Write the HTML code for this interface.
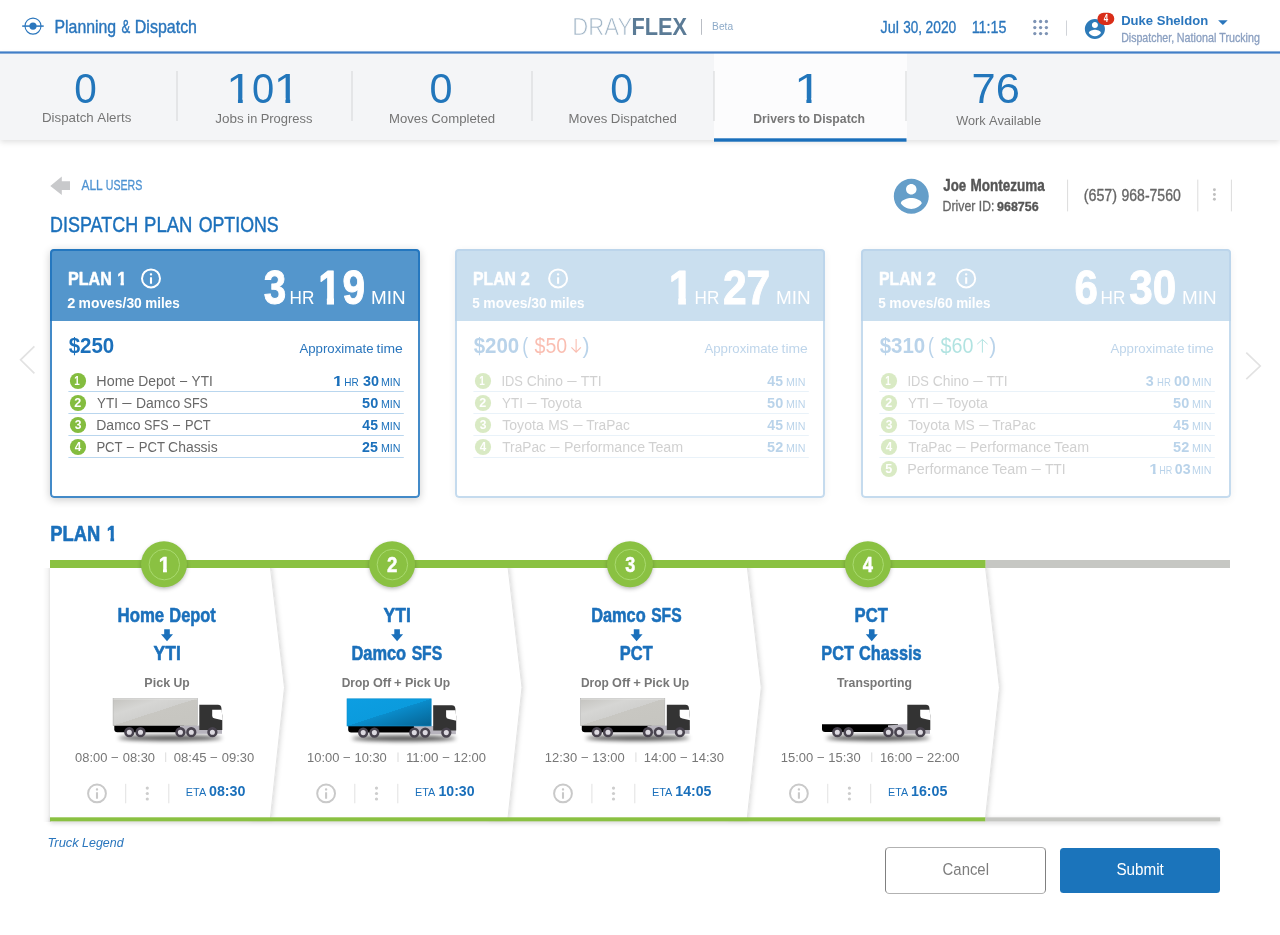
<!DOCTYPE html>
<html lang="en">
<head>
<meta charset="utf-8">
<title>DrayFlex - Planning &amp; Dispatch</title>
<style>
html,body{margin:0;padding:0;background:#fff}
body{font-family:"Liberation Sans",sans-serif;width:1280px;height:935px;overflow:hidden;position:relative}
.abs{position:absolute;box-sizing:border-box}
#hdr{left:0;top:0;width:1280px;height:53px;background:#fff}
#stats{left:0;top:53px;width:1280px;height:87px;background:#f4f5f7;box-shadow:0 2px 6px rgba(0,0,0,.13)}
#tab{left:714px;top:53px;width:192.5px;height:87px;background:#fcfcfd}
.card{top:249px;width:370px;height:248.6px;border-radius:4px;background:#fff;box-shadow:0 2px 8px rgba(0,0,0,.2);overflow:hidden}
.card .bd{position:absolute;left:0;top:0;right:0;bottom:0;box-sizing:border-box;border:2px solid rgba(26,112,188,.82);border-radius:4px}
.card .hd{position:absolute;left:0;top:0;width:100%;height:71.5px;background:#5496cc}
.fade{opacity:.3}
#cancel{left:885px;top:847px;width:161px;height:46.7px;border:1px solid #808080;border-top:1.8px solid #b2b2b2;border-bottom:1.8px solid #b2b2b2;border-radius:4.5px;background:#fff}
#submit{left:1060.4px;top:847.9px;width:160px;height:45.1px;border-radius:3.5px;background:#1b74bb}
#barsh{left:50px;top:817px;width:1170px;height:4px;box-shadow:0 2px 5px rgba(0,0,0,.18)}
svg{position:absolute;left:0;top:0;font-family:"Liberation Sans",sans-serif}
</style>
</head>
<body>
<div class="abs" id="hdr"></div>
<div class="abs" id="stats"></div>
<div class="abs" id="tab"></div>
<div class="abs card" style="left:50px"><div class="hd"></div><svg width="1280" height="935" viewBox="0 0 1280 935" style="left:-50px;top:-249px"><circle cx="78" cy="381" r="8.1" fill="#84bd3f"/><rect x="68.4" y="391" width="335.4" height="1" fill="#b9d6ee"/><circle cx="78" cy="403" r="8.1" fill="#84bd3f"/><rect x="68.4" y="413" width="335.4" height="1" fill="#b9d6ee"/><circle cx="78" cy="425" r="8.1" fill="#84bd3f"/><rect x="68.4" y="435" width="335.4" height="1" fill="#b9d6ee"/><circle cx="78" cy="447" r="8.1" fill="#84bd3f"/><rect x="68.4" y="457" width="335.4" height="1" fill="#b9d6ee"/><circle cx="151" cy="278.4" r="9.00" fill="none" stroke="#fff" stroke-width="2.00"/><g fill="#fff"><rect x="149.85" y="273.20" width="2.30" height="2.30" rx="0.90"/><rect x="149.95" y="277.30" width="2.10" height="6.40" rx=".3"/></g><clipPath id="tc1"><path d="M67.70 270.58 H112.28 V289.79 H67.70 Z M116.96 270.58 H124.80 V281.55 H123.90 V289.79 H120.56 V281.55 H116.96 Z"/></clipPath><text y="284.55" font-size="17.88" font-weight="700" fill="#fff" stroke="#fff" stroke-width="0.5" stroke-linejoin="round" clip-path="url(#tc1)"><tspan x="68.02" textLength="43.82" lengthAdjust="spacingAndGlyphs">PLAN</tspan> <tspan x="117.29" textLength="9.10" lengthAdjust="spacingAndGlyphs">1</tspan></text>
<text y="308.10" font-size="14.16" font-weight="700" fill="#fff"><tspan x="67.29" textLength="8.07" lengthAdjust="spacingAndGlyphs">2</tspan> <tspan x="78.60" textLength="63.23" lengthAdjust="spacingAndGlyphs">moves/30</tspan> <tspan x="145.21" textLength="34.42" lengthAdjust="spacingAndGlyphs">miles</tspan></text>
<text y="304.30" font-size="48.15" font-weight="700" fill="#fff" stroke="#fff" stroke-width="1.0" stroke-linejoin="round" x="263.86" textLength="22.43" lengthAdjust="spacingAndGlyphs">3</text>
<text y="304.00" font-size="18.6" fill="#fff" x="289.62" textLength="24.78" lengthAdjust="spacingAndGlyphs">HR</text>
<clipPath id="tc2"><path d="M319.30 266.68 H334.92 V297.08 H334.02 V318.41 H326.87 V297.08 H319.30 Z M342.38 266.68 H365.40 V318.41 H342.38 Z"/></clipPath><text y="304.30" font-size="48.15" font-weight="700" fill="#fff" stroke="#fff" stroke-width="1.0" stroke-linejoin="round" clip-path="url(#tc2)"><tspan x="318.24" textLength="22.49" lengthAdjust="spacingAndGlyphs">1</tspan><tspan x="342.61" textLength="22.60" lengthAdjust="spacingAndGlyphs">9</tspan></text>
<text y="304.00" font-size="18.6" fill="#fff" x="370.98" textLength="34.64" lengthAdjust="spacingAndGlyphs">MIN</text>
<text y="353.00" font-size="21.19" font-weight="700" fill="#1b70bb" x="68.66" textLength="45.60" lengthAdjust="spacingAndGlyphs">$250</text>
<text y="352.80" font-size="13.43" fill="#2a76bd"><tspan x="299.40" textLength="74.24" lengthAdjust="spacingAndGlyphs">Approximate</tspan> <tspan x="376.56" textLength="26.28" lengthAdjust="spacingAndGlyphs">time</tspan></text>
<text y="385.00" font-size="12.4" font-weight="700" fill="#fff" x="74.30" textLength="5.52" lengthAdjust="spacingAndGlyphs">1</text>
<text y="385.90" font-size="14.47" fill="#686868"><tspan x="96.26" textLength="38.36" lengthAdjust="spacingAndGlyphs">Home</tspan> <tspan x="138.14" textLength="37.06" lengthAdjust="spacingAndGlyphs">Depot</tspan> <tspan x="179.91" y="384.65" textLength="7.14" lengthAdjust="spacingAndGlyphs">–</tspan> <tspan x="191.61" y="385.90" textLength="21.19" lengthAdjust="spacingAndGlyphs">YTI</tspan></text>
<text y="385.90" font-size="10.13" fill="#1b70bb" x="344.16" textLength="14.46" lengthAdjust="spacingAndGlyphs">HR</text>
<text y="385.90" font-size="14.47" font-weight="700" fill="#1b70bb" x="363.00" textLength="15.99" lengthAdjust="spacingAndGlyphs">30</text>
<text y="385.90" font-size="10.13" fill="#1b70bb" x="380.96" textLength="19.60" lengthAdjust="spacingAndGlyphs">MIN</text>
<text y="407.00" font-size="12.4" font-weight="700" fill="#fff" x="74.39" textLength="7.02" lengthAdjust="spacingAndGlyphs">2</text>
<text y="407.90" font-size="14.47" fill="#686868"><tspan x="97.04" textLength="20.87" lengthAdjust="spacingAndGlyphs">YTI</tspan> <tspan x="122.23" y="406.65" textLength="9.22" lengthAdjust="spacingAndGlyphs">—</tspan> <tspan x="136.01" y="407.90" textLength="44.24" lengthAdjust="spacingAndGlyphs">Damco</tspan> <tspan x="183.52" textLength="24.44" lengthAdjust="spacingAndGlyphs">SFS</tspan></text>
<text y="407.90" font-size="14.47" font-weight="700" fill="#1b70bb" x="362.10" textLength="16.09" lengthAdjust="spacingAndGlyphs">50</text>
<text y="407.90" font-size="10.13" fill="#1b70bb" x="380.96" textLength="19.60" lengthAdjust="spacingAndGlyphs">MIN</text>
<text y="429.00" font-size="12.4" font-weight="700" fill="#fff" x="74.66" textLength="6.74" lengthAdjust="spacingAndGlyphs">3</text>
<text y="429.90" font-size="14.47" fill="#686868"><tspan x="96.29" textLength="44.28" lengthAdjust="spacingAndGlyphs">Damco</tspan> <tspan x="144.10" textLength="24.46" lengthAdjust="spacingAndGlyphs">SFS</tspan> <tspan x="173.00" y="428.65" textLength="7.04" lengthAdjust="spacingAndGlyphs">–</tspan> <tspan x="184.89" y="429.90" textLength="25.78" lengthAdjust="spacingAndGlyphs">PCT</tspan></text>
<text y="429.90" font-size="14.47" font-weight="700" fill="#1b70bb" x="362.36" textLength="15.57" lengthAdjust="spacingAndGlyphs">45</text>
<text y="429.90" font-size="10.13" fill="#1b70bb" x="380.96" textLength="19.60" lengthAdjust="spacingAndGlyphs">MIN</text>
<text y="451.00" font-size="12.4" font-weight="700" fill="#fff" x="74.67" textLength="6.48" lengthAdjust="spacingAndGlyphs">4</text>
<text y="451.90" font-size="14.47" fill="#686868"><tspan x="96.38" textLength="25.99" lengthAdjust="spacingAndGlyphs">PCT</tspan> <tspan x="126.73" y="450.65" textLength="7.10" lengthAdjust="spacingAndGlyphs">–</tspan> <tspan x="138.71" y="451.90" textLength="25.99" lengthAdjust="spacingAndGlyphs">PCT</tspan> <tspan x="168.09" textLength="49.56" lengthAdjust="spacingAndGlyphs">Chassis</tspan></text>
<text y="451.90" font-size="14.47" font-weight="700" fill="#1b70bb" x="362.11" textLength="15.83" lengthAdjust="spacingAndGlyphs">25</text>
<text y="451.90" font-size="10.13" fill="#1b70bb" x="380.96" textLength="19.60" lengthAdjust="spacingAndGlyphs">MIN</text>
<clipPath id="one1"><path d="M329.90 375.30 H345.65 V383.60 H339.70 V388.90 H336.69 V383.60 H329.90 Z"/></clipPath><text x="332.90" y="385.90" font-size="14.47" font-weight="700" fill="#1b70bb" textLength="9.75" lengthAdjust="spacingAndGlyphs" clip-path="url(#one1)">1</text></svg><div class="bd"></div></div>
<div class="abs card fade" style="left:455px"><div class="hd"></div><svg width="1280" height="935" viewBox="0 0 1280 935" style="left:-455px;top:-249px"><circle cx="483" cy="381" r="8.1" fill="#84bd3f"/><rect x="473.4" y="391" width="335.4" height="1" fill="#b9d6ee"/><circle cx="483" cy="403" r="8.1" fill="#84bd3f"/><rect x="473.4" y="413" width="335.4" height="1" fill="#b9d6ee"/><circle cx="483" cy="425" r="8.1" fill="#84bd3f"/><rect x="473.4" y="435" width="335.4" height="1" fill="#b9d6ee"/><circle cx="483" cy="447" r="8.1" fill="#84bd3f"/><rect x="473.4" y="457" width="335.4" height="1" fill="#b9d6ee"/><circle cx="558.1" cy="278.4" r="9.00" fill="none" stroke="#fff" stroke-width="2.00"/><g fill="#fff"><rect x="556.95" y="273.20" width="2.30" height="2.30" rx="0.90"/><rect x="557.05" y="277.30" width="2.10" height="6.40" rx=".3"/></g><path d="M576.125 339.0 V352.1 M571.4 347.40000000000003 L576.125 352.20000000000005 L580.85 347.40000000000003" fill="none" stroke="#f02a00" stroke-width="1.1"/><text y="284.55" font-size="17.88" font-weight="700" fill="#fff" stroke="#fff" stroke-width="0.5" stroke-linejoin="round"><tspan x="473.05" textLength="42.90" lengthAdjust="spacingAndGlyphs">PLAN</tspan> <tspan x="520.86" textLength="9.12" lengthAdjust="spacingAndGlyphs">2</tspan></text>
<text y="308.10" font-size="14.16" font-weight="700" fill="#fff"><tspan x="472.32" textLength="7.51" lengthAdjust="spacingAndGlyphs">5</tspan> <tspan x="483.37" textLength="63.38" lengthAdjust="spacingAndGlyphs">moves/30</tspan> <tspan x="550.14" textLength="34.50" lengthAdjust="spacingAndGlyphs">miles</tspan></text>
<text y="304.00" font-size="18.6" fill="#fff" x="694.62" textLength="24.78" lengthAdjust="spacingAndGlyphs">HR</text>
<text y="304.30" font-size="48.15" font-weight="700" fill="#fff" stroke="#fff" stroke-width="1.0" stroke-linejoin="round" x="722.95" textLength="47.37" lengthAdjust="spacingAndGlyphs">27</text>
<text y="304.00" font-size="18.6" fill="#fff" x="775.98" textLength="34.64" lengthAdjust="spacingAndGlyphs">MIN</text>
<text y="353.00" font-size="21.19" font-weight="700" fill="#1b70bb" x="473.66" textLength="45.60" lengthAdjust="spacingAndGlyphs">$200</text>
<text y="352.80" font-size="13.43" fill="#2a76bd"><tspan x="704.40" textLength="74.24" lengthAdjust="spacingAndGlyphs">Approximate</tspan> <tspan x="781.56" textLength="26.28" lengthAdjust="spacingAndGlyphs">time</tspan></text>
<text y="385.00" font-size="12.4" font-weight="700" fill="#fff" x="479.30" textLength="5.53" lengthAdjust="spacingAndGlyphs">1</text>
<text y="385.90" font-size="14.47" fill="#686868"><tspan x="501.39" textLength="21.47" lengthAdjust="spacingAndGlyphs">IDS</tspan> <tspan x="526.66" textLength="36.30" lengthAdjust="spacingAndGlyphs">Chino</tspan> <tspan x="567.24" y="384.65" textLength="9.37" lengthAdjust="spacingAndGlyphs">—</tspan> <tspan x="580.71" y="385.90" textLength="20.95" lengthAdjust="spacingAndGlyphs">TTI</tspan></text>
<text y="385.90" font-size="14.47" font-weight="700" fill="#1b70bb" x="767.36" textLength="15.57" lengthAdjust="spacingAndGlyphs">45</text>
<text y="385.90" font-size="10.13" fill="#1b70bb" x="785.96" textLength="19.60" lengthAdjust="spacingAndGlyphs">MIN</text>
<text y="407.00" font-size="12.4" font-weight="700" fill="#fff" x="479.39" textLength="7.02" lengthAdjust="spacingAndGlyphs">2</text>
<text y="407.90" font-size="14.47" fill="#686868"><tspan x="502.04" textLength="20.86" lengthAdjust="spacingAndGlyphs">YTI</tspan> <tspan x="527.22" y="406.65" textLength="9.22" lengthAdjust="spacingAndGlyphs">—</tspan> <tspan x="540.46" y="407.90" textLength="41.33" lengthAdjust="spacingAndGlyphs">Toyota</tspan></text>
<text y="407.90" font-size="14.47" font-weight="700" fill="#1b70bb" x="767.10" textLength="16.09" lengthAdjust="spacingAndGlyphs">50</text>
<text y="407.90" font-size="10.13" fill="#1b70bb" x="785.96" textLength="19.60" lengthAdjust="spacingAndGlyphs">MIN</text>
<text y="429.00" font-size="12.4" font-weight="700" fill="#fff" x="479.66" textLength="6.74" lengthAdjust="spacingAndGlyphs">3</text>
<text y="429.90" font-size="14.47" fill="#686868"><tspan x="502.26" textLength="41.47" lengthAdjust="spacingAndGlyphs">Toyota</tspan> <tspan x="548.15" textLength="20.64" lengthAdjust="spacingAndGlyphs">MS</tspan> <tspan x="573.14" y="428.65" textLength="9.25" lengthAdjust="spacingAndGlyphs">—</tspan> <tspan x="586.18" y="429.90" textLength="43.66" lengthAdjust="spacingAndGlyphs">TraPac</tspan></text>
<text y="429.90" font-size="14.47" font-weight="700" fill="#1b70bb" x="767.36" textLength="15.57" lengthAdjust="spacingAndGlyphs">45</text>
<text y="429.90" font-size="10.13" fill="#1b70bb" x="785.96" textLength="19.60" lengthAdjust="spacingAndGlyphs">MIN</text>
<text y="451.00" font-size="12.4" font-weight="700" fill="#fff" x="479.67" textLength="6.48" lengthAdjust="spacingAndGlyphs">4</text>
<text y="451.90" font-size="14.47" fill="#686868"><tspan x="502.26" textLength="43.65" lengthAdjust="spacingAndGlyphs">TraPac</tspan> <tspan x="550.33" y="450.65" textLength="9.25" lengthAdjust="spacingAndGlyphs">—</tspan> <tspan x="563.88" y="451.90" textLength="81.17" lengthAdjust="spacingAndGlyphs">Performance</tspan> <tspan x="648.25" textLength="34.93" lengthAdjust="spacingAndGlyphs">Team</tspan></text>
<text y="451.90" font-size="14.47" font-weight="700" fill="#1b70bb" x="767.10" textLength="16.09" lengthAdjust="spacingAndGlyphs">52</text>
<text y="451.90" font-size="10.13" fill="#1b70bb" x="785.96" textLength="19.60" lengthAdjust="spacingAndGlyphs">MIN</text>
<text y="352.80" font-size="21.19" fill="#1b70bb" x="522.35" textLength="5.91" lengthAdjust="spacingAndGlyphs">(</text>
<text y="352.80" font-size="21.19" fill="#f02a00" x="534.57" textLength="32.62" lengthAdjust="spacingAndGlyphs">$50</text>
<text y="352.80" font-size="21.19" fill="#1b70bb" x="582.55" textLength="7.06" lengthAdjust="spacingAndGlyphs">)</text>
<clipPath id="one2"><path d="M665.73 269.03 H696.30 V297.08 H685.90 V307.30 H678.24 V297.08 H665.73 Z"/></clipPath><text x="668.73" y="304.30" font-size="48.15" font-weight="700" fill="#fff" textLength="24.56" lengthAdjust="spacingAndGlyphs" clip-path="url(#one2)" stroke="#fff" stroke-width="1.0" stroke-linejoin="round">1</text></svg><div class="bd"></div></div>
<div class="abs card fade" style="left:861px"><div class="hd"></div><svg width="1280" height="935" viewBox="0 0 1280 935" style="left:-861px;top:-249px"><circle cx="889" cy="381" r="8.1" fill="#84bd3f"/><rect x="879.4" y="391" width="335.4" height="1" fill="#b9d6ee"/><circle cx="889" cy="403" r="8.1" fill="#84bd3f"/><rect x="879.4" y="413" width="335.4" height="1" fill="#b9d6ee"/><circle cx="889" cy="425" r="8.1" fill="#84bd3f"/><rect x="879.4" y="435" width="335.4" height="1" fill="#b9d6ee"/><circle cx="889" cy="447" r="8.1" fill="#84bd3f"/><rect x="879.4" y="457" width="335.4" height="1" fill="#b9d6ee"/><circle cx="889" cy="469" r="8.1" fill="#84bd3f"/><circle cx="966.2" cy="278.4" r="9.00" fill="none" stroke="#fff" stroke-width="2.00"/><g fill="#fff"><rect x="965.05" y="273.20" width="2.30" height="2.30" rx="0.90"/><rect x="965.15" y="277.30" width="2.10" height="6.40" rx=".3"/></g><path d="M982.4 352.6 V339.5 M977.1999999999999 344.2 L982.4 339.4 L987.6 344.2" fill="none" stroke="#00a59e" stroke-width="1"/><text y="284.55" font-size="17.88" font-weight="700" fill="#fff" stroke="#fff" stroke-width="0.5" stroke-linejoin="round"><tspan x="879.05" textLength="42.90" lengthAdjust="spacingAndGlyphs">PLAN</tspan> <tspan x="926.86" textLength="9.12" lengthAdjust="spacingAndGlyphs">2</tspan></text>
<text y="308.10" font-size="14.16" font-weight="700" fill="#fff"><tspan x="878.32" textLength="7.51" lengthAdjust="spacingAndGlyphs">5</tspan> <tspan x="889.37" textLength="63.38" lengthAdjust="spacingAndGlyphs">moves/60</tspan> <tspan x="956.14" textLength="34.50" lengthAdjust="spacingAndGlyphs">miles</tspan></text>
<text y="304.30" font-size="48.15" font-weight="700" fill="#fff" stroke="#fff" stroke-width="1.0" stroke-linejoin="round" x="1074.57" textLength="23.38" lengthAdjust="spacingAndGlyphs">6</text>
<text y="304.00" font-size="18.6" fill="#fff" x="1100.62" textLength="24.78" lengthAdjust="spacingAndGlyphs">HR</text>
<text y="304.30" font-size="48.15" font-weight="700" fill="#fff" stroke="#fff" stroke-width="1.0" stroke-linejoin="round" x="1129.32" textLength="46.99" lengthAdjust="spacingAndGlyphs">30</text>
<text y="304.00" font-size="18.6" fill="#fff" x="1181.98" textLength="34.64" lengthAdjust="spacingAndGlyphs">MIN</text>
<text y="353.00" font-size="21.19" font-weight="700" fill="#1b70bb" x="879.66" textLength="45.60" lengthAdjust="spacingAndGlyphs">$310</text>
<text y="352.80" font-size="13.43" fill="#2a76bd"><tspan x="1110.40" textLength="74.24" lengthAdjust="spacingAndGlyphs">Approximate</tspan> <tspan x="1187.56" textLength="26.28" lengthAdjust="spacingAndGlyphs">time</tspan></text>
<text y="385.00" font-size="12.4" font-weight="700" fill="#fff" x="885.30" textLength="5.53" lengthAdjust="spacingAndGlyphs">1</text>
<text y="385.90" font-size="14.47" fill="#686868"><tspan x="907.39" textLength="21.47" lengthAdjust="spacingAndGlyphs">IDS</tspan> <tspan x="932.66" textLength="36.30" lengthAdjust="spacingAndGlyphs">Chino</tspan> <tspan x="973.24" y="384.65" textLength="9.37" lengthAdjust="spacingAndGlyphs">—</tspan> <tspan x="986.71" y="385.90" textLength="20.95" lengthAdjust="spacingAndGlyphs">TTI</tspan></text>
<text y="385.90" font-size="14.47" font-weight="700" fill="#1b70bb" x="1145.85" textLength="7.94" lengthAdjust="spacingAndGlyphs">3</text>
<text y="385.90" font-size="10.13" fill="#1b70bb" x="1157.09" textLength="13.80" lengthAdjust="spacingAndGlyphs">HR</text>
<text y="385.90" font-size="14.47" font-weight="700" fill="#1b70bb" x="1173.90" textLength="16.09" lengthAdjust="spacingAndGlyphs">00</text>
<text y="385.90" font-size="10.13" fill="#1b70bb" x="1191.96" textLength="19.60" lengthAdjust="spacingAndGlyphs">MIN</text>
<text y="407.00" font-size="12.4" font-weight="700" fill="#fff" x="885.39" textLength="7.02" lengthAdjust="spacingAndGlyphs">2</text>
<text y="407.90" font-size="14.47" fill="#686868"><tspan x="908.04" textLength="20.86" lengthAdjust="spacingAndGlyphs">YTI</tspan> <tspan x="933.22" y="406.65" textLength="9.22" lengthAdjust="spacingAndGlyphs">—</tspan> <tspan x="946.46" y="407.90" textLength="41.33" lengthAdjust="spacingAndGlyphs">Toyota</tspan></text>
<text y="407.90" font-size="14.47" font-weight="700" fill="#1b70bb" x="1173.10" textLength="16.09" lengthAdjust="spacingAndGlyphs">50</text>
<text y="407.90" font-size="10.13" fill="#1b70bb" x="1191.96" textLength="19.60" lengthAdjust="spacingAndGlyphs">MIN</text>
<text y="429.00" font-size="12.4" font-weight="700" fill="#fff" x="885.66" textLength="6.74" lengthAdjust="spacingAndGlyphs">3</text>
<text y="429.90" font-size="14.47" fill="#686868"><tspan x="908.26" textLength="41.47" lengthAdjust="spacingAndGlyphs">Toyota</tspan> <tspan x="954.15" textLength="20.64" lengthAdjust="spacingAndGlyphs">MS</tspan> <tspan x="979.14" y="428.65" textLength="9.25" lengthAdjust="spacingAndGlyphs">—</tspan> <tspan x="992.18" y="429.90" textLength="43.66" lengthAdjust="spacingAndGlyphs">TraPac</tspan></text>
<text y="429.90" font-size="14.47" font-weight="700" fill="#1b70bb" x="1173.36" textLength="15.57" lengthAdjust="spacingAndGlyphs">45</text>
<text y="429.90" font-size="10.13" fill="#1b70bb" x="1191.96" textLength="19.60" lengthAdjust="spacingAndGlyphs">MIN</text>
<text y="451.00" font-size="12.4" font-weight="700" fill="#fff" x="885.67" textLength="6.48" lengthAdjust="spacingAndGlyphs">4</text>
<text y="451.90" font-size="14.47" fill="#686868"><tspan x="908.26" textLength="43.65" lengthAdjust="spacingAndGlyphs">TraPac</tspan> <tspan x="956.33" y="450.65" textLength="9.25" lengthAdjust="spacingAndGlyphs">—</tspan> <tspan x="969.88" y="451.90" textLength="81.17" lengthAdjust="spacingAndGlyphs">Performance</tspan> <tspan x="1054.25" textLength="34.93" lengthAdjust="spacingAndGlyphs">Team</tspan></text>
<text y="451.90" font-size="14.47" font-weight="700" fill="#1b70bb" x="1173.10" textLength="16.09" lengthAdjust="spacingAndGlyphs">52</text>
<text y="451.90" font-size="10.13" fill="#1b70bb" x="1191.96" textLength="19.60" lengthAdjust="spacingAndGlyphs">MIN</text>
<text y="473.00" font-size="12.4" font-weight="700" fill="#fff" x="885.39" textLength="7.02" lengthAdjust="spacingAndGlyphs">5</text>
<text y="473.90" font-size="14.47" fill="#686868"><tspan x="907.27" textLength="81.56" lengthAdjust="spacingAndGlyphs">Performance</tspan> <tspan x="992.04" textLength="35.10" lengthAdjust="spacingAndGlyphs">Team</tspan> <tspan x="1031.54" y="472.65" textLength="9.29" lengthAdjust="spacingAndGlyphs">—</tspan> <tspan x="1044.89" y="473.90" textLength="20.76" lengthAdjust="spacingAndGlyphs">TTI</tspan></text>
<text y="473.90" font-size="10.13" fill="#1b70bb" x="1159.23" textLength="13.08" lengthAdjust="spacingAndGlyphs">HR</text>
<text y="473.90" font-size="14.47" font-weight="700" fill="#1b70bb" x="1174.81" textLength="15.77" lengthAdjust="spacingAndGlyphs">03</text>
<text y="473.90" font-size="10.13" fill="#1b70bb" x="1191.96" textLength="19.60" lengthAdjust="spacingAndGlyphs">MIN</text>
<text y="352.80" font-size="21.19" fill="#1b70bb" x="927.95" textLength="5.91" lengthAdjust="spacingAndGlyphs">(</text>
<text y="352.80" font-size="21.19" fill="#00a59e" x="940.47" textLength="32.93" lengthAdjust="spacingAndGlyphs">$60</text>
<text y="352.80" font-size="21.19" fill="#1b70bb" x="989.35" textLength="7.06" lengthAdjust="spacingAndGlyphs">)</text>
<clipPath id="one3"><path d="M1146.27 463.30 H1161.47 V471.60 H1155.70 V476.90 H1152.83 V471.60 H1146.27 Z"/></clipPath><text x="1149.27" y="473.90" font-size="14.47" font-weight="700" fill="#1b70bb" textLength="9.20" lengthAdjust="spacingAndGlyphs" clip-path="url(#one3)">1</text></svg><div class="bd"></div></div>
<div class="abs" id="barsh"></div>
<div class="abs" id="cancel"></div>
<div class="abs" id="submit"></div>
<svg width="1280" height="935" viewBox="0 0 1280 935">
<defs>
<filter id="blur3" x="-20%" y="-300%" width="140%" height="700%"><feGaussianBlur stdDeviation="2.2"/></filter>
<filter id="blur2" x="-30%" y="-30%" width="160%" height="160%"><feGaussianBlur stdDeviation="2.5"/></filter>
<filter id="pshadow" x="-5%" y="-5%" width="110%" height="110%"><feDropShadow dx="1.2" dy="0" stdDeviation="2.8" flood-color="#000" flood-opacity=".16"/></filter>
<linearGradient id="gcont" x1="0" y1="0" x2="1" y2="1" gradientUnits="objectBoundingBox">
<stop offset="0" stop-color="#c4c3bf"/><stop offset=".3" stop-color="#d6d6d4"/><stop offset=".499" stop-color="#d0d0ce"/><stop offset=".5" stop-color="#c8c7c2"/><stop offset="1" stop-color="#c6c5c0"/></linearGradient>
<linearGradient id="bcont" x1="0" y1="0" x2="1" y2="1" gradientUnits="objectBoundingBox">
<stop offset="0" stop-color="#0d9ee2"/><stop offset=".499" stop-color="#0b9bdd"/><stop offset=".5" stop-color="#0a8ccb"/><stop offset="1" stop-color="#066392"/></linearGradient>
<linearGradient id="lsh" x1="0" y1="0" x2="1" y2="0"><stop offset="0" stop-color="#000" stop-opacity="0"/><stop offset=".6" stop-color="#000" stop-opacity=".04"/><stop offset="1" stop-color="#000" stop-opacity=".13"/></linearGradient>
<clipPath id="pclip"><rect x="50" y="560" width="400" height="270"/></clipPath>
</defs>
<rect x="0" y="51.4" width="1280" height="2.2" fill="#417ec7"/><rect x="714" y="138.3" width="192.5" height="3.4" fill="#1a6fbb"/>
<g stroke="#2a76bd" fill="none"><circle cx="33" cy="26.1" r="8" stroke-width="1.1"/><path d="M22.2 26.1 H43.7" stroke-width="1.5"/></g><circle cx="33" cy="26.1" r="3.6" fill="#2a76bd"/>
<rect x="701" y="19" width="1" height="15.8" fill="#b9bdc4"/>
<circle cx="1034.8" cy="21.5" r="1.65" fill="#7d93b4"/>
<circle cx="1034.8" cy="27.6" r="1.65" fill="#7d93b4"/>
<circle cx="1034.8" cy="33.6" r="1.65" fill="#7d93b4"/>
<circle cx="1040.6" cy="21.5" r="1.65" fill="#7d93b4"/>
<circle cx="1040.6" cy="27.6" r="1.65" fill="#7d93b4"/>
<circle cx="1040.6" cy="33.6" r="1.65" fill="#7d93b4"/>
<circle cx="1046.4" cy="21.5" r="1.65" fill="#7d93b4"/>
<circle cx="1046.4" cy="27.6" r="1.65" fill="#7d93b4"/>
<circle cx="1046.4" cy="33.6" r="1.65" fill="#7d93b4"/>
<rect x="1066" y="20.5" width="1" height="15.2" fill="#d0d3d8"/>
<g transform="translate(1082.84 16.89) scale(1.0050)"><path fill="#2d7ab8" d="M12 2C6.48 2 2 6.48 2 12s4.48 10 10 10 10-4.48 10-10S17.52 2 12 2zm0 3c1.66 0 3 1.34 3 3s-1.34 3-3 3-3-1.34-3-3 1.34-3 3-3zm0 14.2c-2.5 0-4.71-1.28-6-3.22.03-1.99 4-3.08 6-3.08 1.99 0 5.97 1.09 6 3.08-1.29 1.94-3.5 3.22-6 3.22z"/></g>
<rect x="1097.5" y="12.7" width="16.8" height="12.2" rx="6.1" fill="#d92d18"/>
<path d="M1218.1 20.2 H1227.7 L1222.9 24.9 Z" fill="#2a76bd"/>
<rect x="176.5" y="71" width="1" height="50" fill="#d4d5d8"/>
<rect x="351.5" y="71" width="1" height="50" fill="#d4d5d8"/>
<rect x="531.5" y="71" width="1" height="50" fill="#d4d5d8"/>
<rect x="713.5" y="71" width="1" height="50" fill="#d4d5d8"/>
<rect x="905.5" y="71" width="1" height="50" fill="#d4d5d8"/>
<path d="M50.3 186 L61.8 176.6 V181.3 H70 V189.9 H61.8 V195 Z" fill="#c8c9cb"/>
<g transform="translate(890.30 175.30) scale(1.7500)"><path fill="#659ec9" d="M12 2C6.48 2 2 6.48 2 12s4.48 10 10 10 10-4.48 10-10S17.52 2 12 2zm0 3c1.66 0 3 1.34 3 3s-1.34 3-3 3-3-1.34-3-3 1.34-3 3-3zm0 14.2c-2.5 0-4.71-1.28-6-3.22.03-1.99 4-3.08 6-3.08 1.99 0 5.97 1.09 6 3.08-1.29 1.94-3.5 3.22-6 3.22z"/></g>
<rect x="1067.1" y="179.6" width="1" height="31.8" fill="#dcdcdc"/>
<rect x="1197.3" y="179.6" width="1" height="31.8" fill="#dcdcdc"/>
<rect x="1230.9" y="179.6" width="1" height="31.8" fill="#dcdcdc"/>
<circle cx="1214.4" cy="189.7" r="1.45" fill="#bfbfbf"/>
<circle cx="1214.4" cy="194.5" r="1.45" fill="#bfbfbf"/>
<circle cx="1214.4" cy="199.3" r="1.45" fill="#bfbfbf"/>
<path d="M34.4 346.4 L20.6 359.8 L34.4 373.4" fill="none" stroke="#e2e2e2" stroke-width="1.7"/>
<path d="M1246.3 352.7 L1260.2 366 L1246.3 379.2" fill="none" stroke="#e2e2e2" stroke-width="1.7"/>
<g id="timeline">
<rect x="43" y="568" width="8" height="254" fill="url(#lsh)"/>
<g><path d="M727.3 566 H985.5 L999.5 687.5 L985.5 819 H727.3 Z" fill="#fff" filter="url(#pshadow)"/></g><path d="M985.5 567 L999.5 687.5 L985.5 818" fill="none" stroke="#e4e4e4" stroke-width="1"/><g><path d="M488.0 566 H747.3 L761.3 687.5 L747.3 819 H488.0 Z" fill="#fff" filter="url(#pshadow)"/></g><path d="M747.3 567 L761.3 687.5 L747.3 818" fill="none" stroke="#e4e4e4" stroke-width="1"/><g><path d="M250.39999999999998 566 H508.0 L522.0 687.5 L508.0 819 H250.39999999999998 Z" fill="#fff" filter="url(#pshadow)"/></g><path d="M508.0 567 L522.0 687.5 L508.0 818" fill="none" stroke="#e4e4e4" stroke-width="1"/><g clip-path="url(#pclip)"><path d="M50 566 H270.4 L284.5 687.5 L270.4 819 H50 Z" fill="#fff" filter="url(#pshadow)"/></g><path d="M270.4 567 L284.5 687.5 L270.4 818" fill="none" stroke="#e4e4e4" stroke-width="1"/>
<rect x="985.5" y="560" width="244.5" height="8" fill="#c6c7c3"/><rect x="50" y="560" width="935.5" height="8" fill="#8ac142"/>
<rect x="985.3" y="817.3" width="234.9" height="4" fill="#c6c7c3"/><rect x="50" y="817.3" width="935.3" height="4" fill="#8ac142"/>
<circle cx="164" cy="566.2" r="22" fill="#000" opacity=".35" filter="url(#blur2)"/><circle cx="164" cy="564.3" r="23" fill="#8ac142"/><circle cx="164.3" cy="564.6" r="15.25" fill="none" stroke="#a9da6f" stroke-width="1"/><circle cx="392.1" cy="566.2" r="22" fill="#000" opacity=".35" filter="url(#blur2)"/><circle cx="392.1" cy="564.3" r="23" fill="#8ac142"/><circle cx="392.40000000000003" cy="564.6" r="15.25" fill="none" stroke="#a9da6f" stroke-width="1"/><circle cx="630" cy="566.2" r="22" fill="#000" opacity=".35" filter="url(#blur2)"/><circle cx="630" cy="564.3" r="23" fill="#8ac142"/><circle cx="630.3" cy="564.6" r="15.25" fill="none" stroke="#a9da6f" stroke-width="1"/><circle cx="867.9" cy="566.2" r="22" fill="#000" opacity=".35" filter="url(#blur2)"/><circle cx="867.9" cy="564.3" r="23" fill="#8ac142"/><circle cx="868.1999999999999" cy="564.6" r="15.25" fill="none" stroke="#a9da6f" stroke-width="1"/>
<path d="M164.2 629.3 H169.8 V634.3 H173 L167 641.2 L161 634.3 H164.2 Z" fill="#1b70bb"/>
<path d="M394.3 629.3 H399.90000000000003 V634.3 H403.1 L397.1 641.2 L391.1 634.3 H394.3 Z" fill="#1b70bb"/>
<path d="M633.8000000000001 629.3 H639.4 V634.3 H642.6 L636.6 641.2 L630.6 634.3 H633.8000000000001 Z" fill="#1b70bb"/>
<path d="M868.95 629.3 H874.55 V634.3 H877.75 L871.75 641.2 L865.75 634.3 H868.95 Z" fill="#1b70bb"/>
<g transform="translate(0 0)"><ellipse cx="170" cy="738" rx="52" ry="2.8" fill="#000" opacity=".7" filter="url(#blur3)"/><path d="M114.3 725 H184 V732.2 H117.3 Q114.3 732.2 114.3 729.2 Z" fill="#000"/><rect x="180" y="725.6" width="42" height="8.2" fill="#b7b4bd"/><path d="M199.3 704.8 H218 Q221 704.8 221.4 708 L222.3 716 V730 H199.3 Z" fill="#333"/><path d="M212.2 709.8 H221.7 L222.6 720.3 L215 718.6 Q212.2 718 212.2 716 Z" fill="#fff"/><rect x="113.1" y="698.4" width="84.2" height="27.2" fill="url(#gcont)" stroke="#aeaeac" stroke-width=".6"/><rect x="113.4" y="698.5" width="83.6" height="1" fill="#e2e2e0"/><circle cx="129.3" cy="732.2" r="3.85" fill="#dcd9e0" stroke="#48434e" stroke-width="2.6"/><circle cx="140.5" cy="732.2" r="3.85" fill="#dcd9e0" stroke="#48434e" stroke-width="2.6"/><circle cx="180.4" cy="732.2" r="3.85" fill="#dcd9e0" stroke="#48434e" stroke-width="2.6"/><circle cx="191.3" cy="732.2" r="3.85" fill="#dcd9e0" stroke="#48434e" stroke-width="2.6"/><circle cx="212.4" cy="732.2" r="3.85" fill="#dcd9e0" stroke="#48434e" stroke-width="2.6"/></g>
<g transform="translate(233.9 0.4)"><ellipse cx="170" cy="738" rx="52" ry="2.8" fill="#000" opacity=".7" filter="url(#blur3)"/><path d="M114.3 725 H184 V732.2 H117.3 Q114.3 732.2 114.3 729.2 Z" fill="#000"/><rect x="180" y="725.6" width="42" height="8.2" fill="#b7b4bd"/><path d="M199.3 704.8 H218 Q221 704.8 221.4 708 L222.3 716 V730 H199.3 Z" fill="#333"/><path d="M212.2 709.8 H221.7 L222.6 720.3 L215 718.6 Q212.2 718 212.2 716 Z" fill="#fff"/><rect x="113.1" y="698.4" width="84.2" height="27.2" fill="url(#bcont)" stroke="#0a8fd0" stroke-width=".6"/><circle cx="129.3" cy="732.2" r="3.85" fill="#dcd9e0" stroke="#48434e" stroke-width="2.6"/><circle cx="140.5" cy="732.2" r="3.85" fill="#dcd9e0" stroke="#48434e" stroke-width="2.6"/><circle cx="180.4" cy="732.2" r="3.85" fill="#dcd9e0" stroke="#48434e" stroke-width="2.6"/><circle cx="191.3" cy="732.2" r="3.85" fill="#dcd9e0" stroke="#48434e" stroke-width="2.6"/><circle cx="212.4" cy="732.2" r="3.85" fill="#dcd9e0" stroke="#48434e" stroke-width="2.6"/></g>
<g transform="translate(467.5 0)"><ellipse cx="170" cy="738" rx="52" ry="2.8" fill="#000" opacity=".7" filter="url(#blur3)"/><path d="M114.3 725 H184 V732.2 H117.3 Q114.3 732.2 114.3 729.2 Z" fill="#000"/><rect x="180" y="725.6" width="42" height="8.2" fill="#b7b4bd"/><path d="M199.3 704.8 H218 Q221 704.8 221.4 708 L222.3 716 V730 H199.3 Z" fill="#333"/><path d="M212.2 709.8 H221.7 L222.6 720.3 L215 718.6 Q212.2 718 212.2 716 Z" fill="#fff"/><rect x="113.1" y="698.4" width="84.2" height="27.2" fill="url(#gcont)" stroke="#aeaeac" stroke-width=".6"/><rect x="113.4" y="698.5" width="83.6" height="1" fill="#e2e2e0"/><circle cx="129.3" cy="732.2" r="3.85" fill="#dcd9e0" stroke="#48434e" stroke-width="2.6"/><circle cx="140.5" cy="732.2" r="3.85" fill="#dcd9e0" stroke="#48434e" stroke-width="2.6"/><circle cx="180.4" cy="732.2" r="3.85" fill="#dcd9e0" stroke="#48434e" stroke-width="2.6"/><circle cx="191.3" cy="732.2" r="3.85" fill="#dcd9e0" stroke="#48434e" stroke-width="2.6"/><circle cx="212.4" cy="732.2" r="3.85" fill="#dcd9e0" stroke="#48434e" stroke-width="2.6"/></g>
<g transform="translate(708 0)"><ellipse cx="170" cy="738" rx="52" ry="2.8" fill="#000" opacity=".7" filter="url(#blur3)"/><path d="M114 724.2 H190 V732 H117 Q114 732 114 729 Z" fill="#000"/><path d="M180 725.5 L195 724.2 H200 V733.8 H180 Z" fill="#b7b4bd"/><rect x="180" y="725.6" width="42" height="8.2" fill="#b7b4bd"/><path d="M199.3 704.8 H218 Q221 704.8 221.4 708 L222.3 716 V730 H199.3 Z" fill="#333"/><path d="M212.2 709.8 H221.7 L222.6 720.3 L215 718.6 Q212.2 718 212.2 716 Z" fill="#fff"/><circle cx="129.3" cy="732.2" r="3.85" fill="#dcd9e0" stroke="#48434e" stroke-width="2.6"/><circle cx="140.5" cy="732.2" r="3.85" fill="#dcd9e0" stroke="#48434e" stroke-width="2.6"/><circle cx="180.4" cy="732.2" r="3.85" fill="#dcd9e0" stroke="#48434e" stroke-width="2.6"/><circle cx="191.3" cy="732.2" r="3.85" fill="#dcd9e0" stroke="#48434e" stroke-width="2.6"/><circle cx="212.4" cy="732.2" r="3.85" fill="#dcd9e0" stroke="#48434e" stroke-width="2.6"/></g>
<rect x="165.2" y="752.4" width="1" height="9.6" fill="#dcdcdc"/>
<rect x="397.5" y="752.4" width="1" height="9.6" fill="#dcdcdc"/>
<rect x="635.4" y="752.4" width="1" height="9.6" fill="#dcdcdc"/>
<rect x="871.25" y="752.4" width="1" height="9.6" fill="#dcdcdc"/>
<circle cx="97" cy="793.4" r="8.91" fill="none" stroke="#c9c9c9" stroke-width="1.98"/><g fill="#c9c9c9"><rect x="95.86" y="788.25" width="2.28" height="2.28" rx="0.89"/><rect x="95.96" y="792.31" width="2.08" height="6.34" rx=".3"/></g>
<circle cx="326.1" cy="793.4" r="8.91" fill="none" stroke="#c9c9c9" stroke-width="1.98"/><g fill="#c9c9c9"><rect x="324.96" y="788.25" width="2.28" height="2.28" rx="0.89"/><rect x="325.06" y="792.31" width="2.08" height="6.34" rx=".3"/></g>
<circle cx="563" cy="793.4" r="8.91" fill="none" stroke="#c9c9c9" stroke-width="1.98"/><g fill="#c9c9c9"><rect x="561.86" y="788.25" width="2.28" height="2.28" rx="0.89"/><rect x="561.96" y="792.31" width="2.08" height="6.34" rx=".3"/></g>
<circle cx="798.9" cy="793.4" r="8.91" fill="none" stroke="#c9c9c9" stroke-width="1.98"/><g fill="#c9c9c9"><rect x="797.76" y="788.25" width="2.28" height="2.28" rx="0.89"/><rect x="797.86" y="792.31" width="2.08" height="6.34" rx=".3"/></g>
<rect x="125.2" y="783.8" width="1" height="19.5" fill="#e2e2e2"/>
<rect x="354.3" y="783.8" width="1" height="19.5" fill="#e2e2e2"/>
<rect x="591.4" y="783.8" width="1" height="19.5" fill="#e2e2e2"/>
<rect x="827.25" y="783.8" width="1" height="19.5" fill="#e2e2e2"/>
<rect x="168.3" y="783.8" width="1" height="19.5" fill="#e2e2e2"/>
<rect x="397.3" y="783.8" width="1" height="19.5" fill="#e2e2e2"/>
<rect x="634.3" y="783.8" width="1" height="19.5" fill="#e2e2e2"/>
<rect x="870.2" y="783.8" width="1" height="19.5" fill="#e2e2e2"/>
<circle cx="147.3" cy="788.1" r="1.6" fill="#cdcdcd"/>
<circle cx="147.3" cy="793.5" r="1.6" fill="#cdcdcd"/>
<circle cx="147.3" cy="799" r="1.6" fill="#cdcdcd"/>
<circle cx="376.5" cy="788.1" r="1.6" fill="#cdcdcd"/>
<circle cx="376.5" cy="793.5" r="1.6" fill="#cdcdcd"/>
<circle cx="376.5" cy="799" r="1.6" fill="#cdcdcd"/>
<circle cx="613.5" cy="788.1" r="1.6" fill="#cdcdcd"/>
<circle cx="613.5" cy="793.5" r="1.6" fill="#cdcdcd"/>
<circle cx="613.5" cy="799" r="1.6" fill="#cdcdcd"/>
<circle cx="849.4" cy="788.1" r="1.6" fill="#cdcdcd"/>
<circle cx="849.4" cy="793.5" r="1.6" fill="#cdcdcd"/>
<circle cx="849.4" cy="799" r="1.6" fill="#cdcdcd"/>
</g>
<g id="labels"><text y="32.60" font-size="18.02" fill="#2a76bd" stroke="#2a76bd" stroke-width="0.4" stroke-linejoin="round"><tspan x="54.48" textLength="61.69" lengthAdjust="spacingAndGlyphs">Planning</tspan> <tspan x="121.49" textLength="8.70" lengthAdjust="spacingAndGlyphs">&amp;</tspan> <tspan x="134.84" textLength="62.18" lengthAdjust="spacingAndGlyphs">Dispatch</tspan></text>
<text y="34.70" font-size="23.05" fill="#a3b7c8" stroke="#fff" stroke-width="0.7" x="572.32" textLength="59.84" lengthAdjust="spacingAndGlyphs">DRAY</text>
<text y="34.70" font-size="23.05" font-weight="700" fill="#5b7b96" x="631.39" textLength="55.50" lengthAdjust="spacingAndGlyphs">FLEX</text>
<text y="29.70" font-size="10.85" fill="#8daac8" x="712.10" textLength="20.96" lengthAdjust="spacingAndGlyphs">Beta</text>
<text y="32.75" font-size="15.79" fill="#2a76bd" stroke="#2a76bd" stroke-width="0.3" stroke-linejoin="round"><tspan x="880.62" textLength="18.24" lengthAdjust="spacingAndGlyphs">Jul</tspan> <tspan x="903.21" textLength="18.85" lengthAdjust="spacingAndGlyphs">30,</tspan> <tspan x="925.52" textLength="30.77" lengthAdjust="spacingAndGlyphs">2020</tspan></text>
<text y="32.75" font-size="15.79" fill="#2a76bd" stroke="#2a76bd" stroke-width="0.3" stroke-linejoin="round" x="971.71" textLength="34.86" lengthAdjust="spacingAndGlyphs">11:15</text>
<text y="21.90" font-size="10.33" font-weight="700" fill="#fff" x="1103.81" textLength="4.39" lengthAdjust="spacingAndGlyphs">4</text>
<text y="24.80" font-size="13.0" font-weight="700" fill="#2a76bd" x="1121.15" textLength="87.04" lengthAdjust="spacingAndGlyphs">Duke Sheldon</text>
<text y="41.85" font-size="11.97" fill="#8a9fc0" stroke="#8a9fc0" stroke-width="0.3" stroke-linejoin="round"><tspan x="1121.17" textLength="52.95" lengthAdjust="spacingAndGlyphs">Dispatcher,</tspan> <tspan x="1176.81" textLength="39.48" lengthAdjust="spacingAndGlyphs">National</tspan> <tspan x="1219.29" textLength="40.59" lengthAdjust="spacingAndGlyphs">Trucking</tspan></text>
<text y="102.70" font-size="43.4" fill="#2276bb" x="74.16" textLength="22.57" lengthAdjust="spacingAndGlyphs">0</text>
<text y="122.00" font-size="13.43" fill="#757575"><tspan x="42.01" textLength="51.68" lengthAdjust="spacingAndGlyphs">Dispatch</tspan> <tspan x="97.27" textLength="34.04" lengthAdjust="spacingAndGlyphs">Alerts</tspan></text>
<clipPath id="tc3"><path d="M229.70 69.09 H243.65 V98.09 H242.75 V115.71 H237.96 V98.09 H229.70 Z M252.30 69.09 H273.78 V115.71 H252.30 Z M277.15 69.09 H291.10 V98.09 H290.20 V115.71 H285.41 V98.09 H277.15 Z"/></clipPath><text y="103.00" font-size="43.4" fill="#2276bb" clip-path="url(#tc3)"><tspan x="226.34" textLength="26.36" lengthAdjust="spacingAndGlyphs">1</tspan><tspan x="251.89" textLength="22.20" lengthAdjust="spacingAndGlyphs">0</tspan><tspan x="273.79" textLength="26.36" lengthAdjust="spacingAndGlyphs">1</tspan></text>
<text y="123.00" font-size="13.43" fill="#757575"><tspan x="215.25" textLength="28.43" lengthAdjust="spacingAndGlyphs">Jobs</tspan> <tspan x="247.37" textLength="9.90" lengthAdjust="spacingAndGlyphs">in</tspan> <tspan x="260.66" textLength="51.80" lengthAdjust="spacingAndGlyphs">Progress</tspan></text>
<text y="103.00" font-size="43.4" fill="#2276bb" x="429.58" textLength="22.98" lengthAdjust="spacingAndGlyphs">0</text>
<text y="123.00" font-size="13.43" fill="#757575"><tspan x="389.02" textLength="38.71" lengthAdjust="spacingAndGlyphs">Moves</tspan> <tspan x="431.27" textLength="63.89" lengthAdjust="spacingAndGlyphs">Completed</tspan></text>
<text y="103.00" font-size="43.4" fill="#2276bb" x="610.33" textLength="23.04" lengthAdjust="spacingAndGlyphs">0</text>
<text y="123.00" font-size="13.43" fill="#757575"><tspan x="568.52" textLength="38.79" lengthAdjust="spacingAndGlyphs">Moves</tspan> <tspan x="610.86" textLength="66.03" lengthAdjust="spacingAndGlyphs">Dispatched</tspan></text>
<text y="122.60" font-size="13.43" font-weight="700" fill="#777"><tspan x="753.32" textLength="41.98" lengthAdjust="spacingAndGlyphs">Drivers</tspan> <tspan x="798.13" textLength="11.98" lengthAdjust="spacingAndGlyphs">to</tspan> <tspan x="813.30" textLength="51.72" lengthAdjust="spacingAndGlyphs">Dispatch</tspan></text>
<text y="103.00" font-size="43.4" fill="#2276bb" x="971.50" textLength="48.27" lengthAdjust="spacingAndGlyphs">76</text>
<text y="125.00" font-size="13.43" fill="#757575"><tspan x="956.25" textLength="29.36" lengthAdjust="spacingAndGlyphs">Work</tspan> <tspan x="989.04" textLength="52.03" lengthAdjust="spacingAndGlyphs">Available</tspan></text>
<text y="189.65" font-size="13.83" fill="#4f93d2" stroke="#4f93d2" stroke-width="0.3" stroke-linejoin="round"><tspan x="81.45" textLength="20.83" lengthAdjust="spacingAndGlyphs">ALL</tspan> <tspan x="105.83" textLength="36.53" lengthAdjust="spacingAndGlyphs">USERS</tspan></text>
<text y="231.68" font-size="22.08" fill="#1b70bb" stroke="#1b70bb" stroke-width="0.45" stroke-linejoin="round"><tspan x="50.10" textLength="88.00" lengthAdjust="spacingAndGlyphs">DISPATCH</tspan> <tspan x="144.10" textLength="48.32" lengthAdjust="spacingAndGlyphs">PLAN</tspan> <tspan x="198.68" textLength="80.00" lengthAdjust="spacingAndGlyphs">OPTIONS</tspan></text>
<text y="191.10" font-size="15.64" font-weight="700" fill="#555" stroke="#555" stroke-width="0.4" stroke-linejoin="round"><tspan x="943.29" textLength="22.93" lengthAdjust="spacingAndGlyphs">Joe</tspan> <tspan x="970.49" textLength="74.26" lengthAdjust="spacingAndGlyphs">Montezuma</tspan></text>
<text y="210.75" font-size="13.72" fill="#666" stroke="#666" stroke-width="0.3" stroke-linejoin="round"><tspan x="942.55" textLength="32.92" lengthAdjust="spacingAndGlyphs">Driver</tspan> <tspan x="978.86" textLength="15.42" lengthAdjust="spacingAndGlyphs">ID:</tspan></text>
<text y="210.72" font-size="13.65" font-weight="700" fill="#555" stroke="#555" stroke-width="0.35" stroke-linejoin="round" x="997.02" textLength="41.59" lengthAdjust="spacingAndGlyphs">968756</text>
<text y="200.82" font-size="16.03" fill="#666" stroke="#666" stroke-width="0.35" stroke-linejoin="round"><tspan x="1083.68" textLength="33.39" lengthAdjust="spacingAndGlyphs">(657)</tspan> <tspan x="1121.52" textLength="59.20" lengthAdjust="spacingAndGlyphs">968-7560</tspan></text>
<clipPath id="tc4"><path d="M50.00 524.32 H100.50 V547.80 H50.00 Z M106.49 524.32 H115.00 V537.83 H114.10 V547.80 H110.40 V537.83 H106.49 Z"/></clipPath><text y="541.40" font-size="21.86" font-weight="700" fill="#1b70bb" stroke="#1b70bb" stroke-width="0.6" stroke-linejoin="round" clip-path="url(#tc4)"><tspan x="50.24" textLength="50.03" lengthAdjust="spacingAndGlyphs">PLAN</tspan> <tspan x="106.75" textLength="10.13" lengthAdjust="spacingAndGlyphs">1</tspan></text>
<text y="571.85" font-size="22.01" font-weight="700" fill="#fff" stroke="#fff" stroke-width="0.5" stroke-linejoin="round" x="387.02" textLength="10.37" lengthAdjust="spacingAndGlyphs">2</text>
<text y="571.85" font-size="22.01" font-weight="700" fill="#fff" stroke="#fff" stroke-width="0.5" stroke-linejoin="round" x="625.14" textLength="10.02" lengthAdjust="spacingAndGlyphs">3</text>
<text y="571.85" font-size="22.01" font-weight="700" fill="#fff" stroke="#fff" stroke-width="0.5" stroke-linejoin="round" x="862.74" textLength="10.21" lengthAdjust="spacingAndGlyphs">4</text>
<text y="621.93" font-size="19.56" font-weight="700" fill="#1b70bb" stroke="#1b70bb" stroke-width="0.55" stroke-linejoin="round"><tspan x="117.60" textLength="46.60" lengthAdjust="spacingAndGlyphs">Home</tspan> <tspan x="169.37" textLength="46.47" lengthAdjust="spacingAndGlyphs">Depot</tspan></text>
<text y="659.73" font-size="19.56" font-weight="700" fill="#1b70bb" stroke="#1b70bb" stroke-width="0.55" stroke-linejoin="round" x="153.53" textLength="27.25" lengthAdjust="spacingAndGlyphs">YTI</text>
<text y="687.00" font-size="13.43" font-weight="700" fill="#777"><tspan x="144.30" textLength="25.85" lengthAdjust="spacingAndGlyphs">Pick</tspan> <tspan x="173.40" textLength="16.19" lengthAdjust="spacingAndGlyphs">Up</tspan></text>
<text y="621.93" font-size="19.56" font-weight="700" fill="#1b70bb" stroke="#1b70bb" stroke-width="0.55" stroke-linejoin="round" x="383.53" textLength="27.25" lengthAdjust="spacingAndGlyphs">YTI</text>
<text y="659.73" font-size="19.56" font-weight="700" fill="#1b70bb" stroke="#1b70bb" stroke-width="0.55" stroke-linejoin="round"><tspan x="351.43" textLength="54.73" lengthAdjust="spacingAndGlyphs">Damco</tspan> <tspan x="411.64" textLength="30.50" lengthAdjust="spacingAndGlyphs">SFS</tspan></text>
<text y="687.00" font-size="13.43" font-weight="700" fill="#777"><tspan x="341.73" textLength="27.89" lengthAdjust="spacingAndGlyphs">Drop</tspan> <tspan x="372.93" textLength="18.26" lengthAdjust="spacingAndGlyphs">Off</tspan> <tspan x="394.08" textLength="7.61" lengthAdjust="spacingAndGlyphs">+</tspan> <tspan x="404.95" textLength="25.76" lengthAdjust="spacingAndGlyphs">Pick</tspan> <tspan x="433.96" textLength="16.14" lengthAdjust="spacingAndGlyphs">Up</tspan></text>
<text y="621.93" font-size="19.56" font-weight="700" fill="#1b70bb" stroke="#1b70bb" stroke-width="0.55" stroke-linejoin="round"><tspan x="591.13" textLength="54.58" lengthAdjust="spacingAndGlyphs">Damco</tspan> <tspan x="651.17" textLength="30.42" lengthAdjust="spacingAndGlyphs">SFS</tspan></text>
<text y="659.73" font-size="19.56" font-weight="700" fill="#1b70bb" stroke="#1b70bb" stroke-width="0.55" stroke-linejoin="round" x="619.82" textLength="32.89" lengthAdjust="spacingAndGlyphs">PCT</text>
<text y="687.00" font-size="13.43" font-weight="700" fill="#777"><tspan x="580.93" textLength="27.84" lengthAdjust="spacingAndGlyphs">Drop</tspan> <tspan x="612.07" textLength="18.23" lengthAdjust="spacingAndGlyphs">Off</tspan> <tspan x="633.18" textLength="7.60" lengthAdjust="spacingAndGlyphs">+</tspan> <tspan x="644.04" textLength="25.72" lengthAdjust="spacingAndGlyphs">Pick</tspan> <tspan x="672.99" textLength="16.11" lengthAdjust="spacingAndGlyphs">Up</tspan></text>
<text y="621.93" font-size="19.56" font-weight="700" fill="#1b70bb" stroke="#1b70bb" stroke-width="0.55" stroke-linejoin="round" x="854.61" textLength="33.31" lengthAdjust="spacingAndGlyphs">PCT</text>
<text y="659.73" font-size="19.56" font-weight="700" fill="#1b70bb" stroke="#1b70bb" stroke-width="0.55" stroke-linejoin="round"><tspan x="821.34" textLength="32.52" lengthAdjust="spacingAndGlyphs">PCT</tspan> <tspan x="859.06" textLength="62.53" lengthAdjust="spacingAndGlyphs">Chassis</tspan></text>
<text y="687.00" font-size="13.43" font-weight="700" fill="#777" x="837.00" textLength="75.01" lengthAdjust="spacingAndGlyphs">Transporting</text>
<text y="762.00" font-size="13.43" fill="#777"><tspan x="75.02" textLength="32.35" lengthAdjust="spacingAndGlyphs">08:00</tspan> <tspan x="111.59" y="760.88" textLength="6.53" lengthAdjust="spacingAndGlyphs">–</tspan> <tspan x="122.72" y="762.00" textLength="32.35" lengthAdjust="spacingAndGlyphs">08:30</tspan></text>
<text y="762.00" font-size="13.43" fill="#777"><tspan x="173.81" textLength="32.78" lengthAdjust="spacingAndGlyphs">08:45</tspan> <tspan x="210.58" y="760.88" textLength="6.57" lengthAdjust="spacingAndGlyphs">–</tspan> <tspan x="221.76" y="762.00" textLength="32.51" lengthAdjust="spacingAndGlyphs">09:30</tspan></text>
<text y="762.00" font-size="13.43" fill="#777"><tspan x="307.04" textLength="32.38" lengthAdjust="spacingAndGlyphs">10:00</tspan> <tspan x="343.61" y="760.88" textLength="6.49" lengthAdjust="spacingAndGlyphs">–</tspan> <tspan x="354.44" y="762.00" textLength="32.38" lengthAdjust="spacingAndGlyphs">10:30</tspan></text>
<text y="762.00" font-size="13.43" fill="#777"><tspan x="405.90" textLength="32.54" lengthAdjust="spacingAndGlyphs">11:00</tspan> <tspan x="442.63" y="760.88" textLength="6.51" lengthAdjust="spacingAndGlyphs">–</tspan> <tspan x="453.49" y="762.00" textLength="32.49" lengthAdjust="spacingAndGlyphs">12:00</tspan></text>
<text y="762.00" font-size="13.43" fill="#777"><tspan x="544.83" textLength="32.45" lengthAdjust="spacingAndGlyphs">12:30</tspan> <tspan x="581.48" y="760.88" textLength="6.51" lengthAdjust="spacingAndGlyphs">–</tspan> <tspan x="592.33" y="762.00" textLength="32.45" lengthAdjust="spacingAndGlyphs">13:00</tspan></text>
<text y="762.00" font-size="13.43" fill="#777"><tspan x="643.83" textLength="32.53" lengthAdjust="spacingAndGlyphs">14:00</tspan> <tspan x="680.57" y="760.88" textLength="6.52" lengthAdjust="spacingAndGlyphs">–</tspan> <tspan x="691.45" y="762.00" textLength="32.53" lengthAdjust="spacingAndGlyphs">14:30</tspan></text>
<text y="762.00" font-size="13.43" fill="#777"><tspan x="780.73" textLength="32.49" lengthAdjust="spacingAndGlyphs">15:00</tspan> <tspan x="817.43" y="760.88" textLength="6.51" lengthAdjust="spacingAndGlyphs">–</tspan> <tspan x="828.29" y="762.00" textLength="32.49" lengthAdjust="spacingAndGlyphs">15:30</tspan></text>
<text y="762.00" font-size="13.43" fill="#777"><tspan x="879.94" textLength="32.32" lengthAdjust="spacingAndGlyphs">16:00</tspan> <tspan x="916.45" y="760.88" textLength="6.48" lengthAdjust="spacingAndGlyphs">–</tspan> <tspan x="926.98" y="762.00" textLength="32.59" lengthAdjust="spacingAndGlyphs">22:00</tspan></text>
<text y="795.90" font-size="11.16" fill="#1b70bb" x="185.82" textLength="20.40" lengthAdjust="spacingAndGlyphs">ETA</text>
<text y="796.00" font-size="14.26" font-weight="700" fill="#1b70bb" x="209.00" textLength="36.50" lengthAdjust="spacingAndGlyphs">08:30</text>
<text y="795.90" font-size="11.16" fill="#1b70bb" x="415.03" textLength="20.29" lengthAdjust="spacingAndGlyphs">ETA</text>
<text y="796.00" font-size="14.26" font-weight="700" fill="#1b70bb" x="438.46" textLength="36.14" lengthAdjust="spacingAndGlyphs">10:30</text>
<text y="795.90" font-size="11.16" fill="#1b70bb" x="651.92" textLength="20.51" lengthAdjust="spacingAndGlyphs">ETA</text>
<text y="796.00" font-size="14.26" font-weight="700" fill="#1b70bb" x="675.36" textLength="36.09" lengthAdjust="spacingAndGlyphs">14:05</text>
<text y="795.90" font-size="11.16" fill="#1b70bb" x="888.04" textLength="20.08" lengthAdjust="spacingAndGlyphs">ETA</text>
<text y="796.00" font-size="14.26" font-weight="700" fill="#1b70bb" x="911.05" textLength="36.40" lengthAdjust="spacingAndGlyphs">16:05</text>
<text y="847.00" font-size="13.43" font-style="italic" fill="#2a76bd"><tspan x="47.39" textLength="31.45" lengthAdjust="spacingAndGlyphs">Truck</tspan> <tspan x="82.07" textLength="41.51" lengthAdjust="spacingAndGlyphs">Legend</tspan></text>
<text y="875.10" font-size="15.91" fill="#7d7d7d" x="942.60" textLength="46.35" lengthAdjust="spacingAndGlyphs">Cancel</text>
<text y="875.10" font-size="15.91" fill="#fff" x="1116.38" textLength="47.43" lengthAdjust="spacingAndGlyphs">Submit</text>
<clipPath id="one0"><path d="M790.90 71.11 H825.21 V97.99 H811.50 V105.90 H806.40 V97.99 H790.90 Z"/></clipPath><text x="793.90" y="102.90" font-size="43.4" fill="#2276bb" textLength="28.30" lengthAdjust="spacingAndGlyphs" clip-path="url(#one0)">1</text>
<clipPath id="one4"><path d="M155.75 555.73 H173.16 V568.31 H166.90 V574.85 H162.99 V568.31 H155.75 Z"/></clipPath><text x="158.75" y="571.85" font-size="22.01" font-weight="700" fill="#fff" textLength="11.41" lengthAdjust="spacingAndGlyphs" clip-path="url(#one4)" stroke="#fff" stroke-width="0.5" stroke-linejoin="round">1</text></g>
</svg>
</body>
</html>
